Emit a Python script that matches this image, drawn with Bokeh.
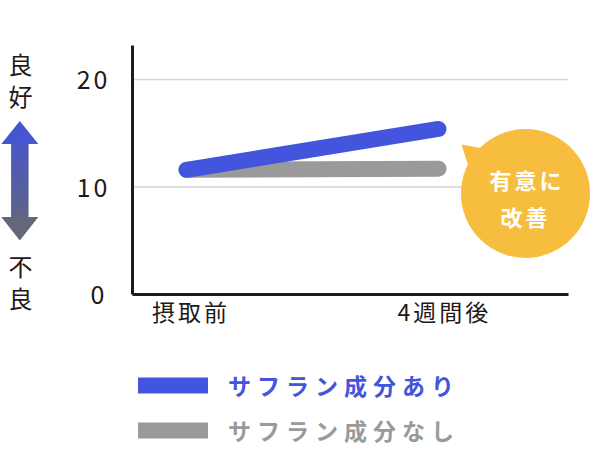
import numpy as np
from bokeh.plotting import figure
from bokeh.models import Range1d, FixedTicker, Label, Legend, LegendItem
from bokeh.layouts import row, column
from bokeh.embed import file_html
from bokeh.resources import INLINE

# ---- data ----
categories = ["摂取前", "4週間後"]
x_pos = [0, 1]
saffron_with = [11.6, 15.4]
saffron_without = [11.6, 11.7]
y_ticks = [0, 10, 20]
legend_labels = ["サフラン成分あり", "サフラン成分なし"]
better_label = "良\n好"
worse_label = "不\n良"
callout_lines = ["有意に", "改善"]

# ---- styles ----
BLUE = "#4355DC"
GRAY = "#9A9A9A"
DARK = "#231815"
ORANGE = "#F7BD3E"
FONT = "Noto Sans CJK JP"

TOTAL_W, TOTAL_H = 590, 464
LW = 42            # left strip (arrow + labels)
MH = 340           # main chart height
LH = TOTAL_H - MH  # legend strip height
MW = TOTAL_W - LW

# pixel geometry of the main frame (page coordinates)
FL, FR, FT, FB = 132, 590, 45, 294
X0_PX, PX_PER_X = 186, 252.0
PX_PER_Y = 10.75
AXIS_END_PX = 568


def dx(px):
    return (px - X0_PX) / PX_PER_X


def dy(py):
    return (FB - py) / PX_PER_Y


# ================= main chart =================
p = figure(width=MW, height=MH, output_backend="svg", toolbar_location=None,
           x_range=Range1d(dx(FL), dx(FR)), y_range=Range1d(0, dy(FT)),
           min_border_left=FL - LW, min_border_right=0,
           min_border_top=FT, min_border_bottom=MH - FB, frame_align=False)
p.outline_line_color = None
p.background_fill_color = "white"
p.border_fill_color = "white"
p.styles = {"letter-spacing": "3px"}

for ax in (p.xaxis, p.yaxis):
    ax.axis_line_color = DARK
    ax.axis_line_width = 3
    ax.major_tick_line_color = None
    ax.minor_tick_line_color = None
    ax.major_label_text_font = FONT
    ax.major_label_text_color = DARK

p.xaxis.ticker = FixedTicker(ticks=x_pos)
p.xaxis.major_label_overrides = {x: c for x, c in zip(x_pos, categories)}
p.xaxis.major_label_text_font_size = "23px"
p.xaxis.major_label_standoff = -7
p.xaxis.bounds = (dx(FL), dx(AXIS_END_PX))

p.yaxis.ticker = FixedTicker(ticks=y_ticks)
p.yaxis.major_label_text_font_size = "25px"
p.yaxis.major_label_standoff = 22

p.xgrid.grid_line_color = None
p.ygrid.grid_line_color = None
grid_vals = [v for v in y_ticks if v > 0]
p.segment(x0=[dx(FL)] * len(grid_vals), x1=[dx(AXIS_END_PX)] * len(grid_vals),
          y0=grid_vals, y1=grid_vals, line_color="#D5D5D5", line_width=1.5)

r_gray = p.line(x_pos, saffron_without, line_color=GRAY, line_width=16, line_cap="round")
r_blue = p.line(x_pos, saffron_with, line_color=BLUE, line_width=16, line_cap="round")

# callout bubble
p.scatter([dx(525)], [dy(193)], marker="circle", size=129,
          fill_color=ORANGE, line_color=None)
p.patch([dx(461), dx(483), dx(468)], [dy(144), dy(148), dy(166)],
        fill_color=ORANGE, line_color=None)
for txt, ty in zip(callout_lines, [178, 215]):
    p.add_layout(Label(x=dx(522), y=dy(ty), text=txt, text_align="center",
                       text_baseline="middle", text_color="white", text_font=FONT,
                       text_font_style="bold", text_font_size="22px"))

# ================= left strip =================
lf = figure(width=LW, height=MH, output_backend="svg", toolbar_location=None,
            x_range=Range1d(0, LW), y_range=Range1d(MH, 0),
            x_axis_type=None, y_axis_type=None, min_border=0, frame_align=False)
lf.outline_line_color = None
lf.xgrid.grid_line_color = None
lf.ygrid.grid_line_color = None

TOP_C = np.array([0x43, 0x55, 0xDC])
BOT_C = np.array([0x68, 0x68, 0x70])


def col_at(py):
    f = min(max((py - 120) / 120.0, 0), 1)
    c = (TOP_C * (1 - f) + BOT_C * f).astype(int)
    return "#%02x%02x%02x" % tuple(c)


acx, hw, sw = 19.3, 18.5, 8.7
lf.patch([acx, acx - hw, acx + hw], [120.5, 143.5, 143.5], fill_color=col_at(132), line_color=None)
lf.patch([acx - hw, acx + hw, acx], [216.5, 216.5, 240], fill_color=col_at(228), line_color=None)
tops = np.arange(143, 217, 2.0)
bots = np.minimum(tops + 2.6, 217)
lf.quad(left=acx - sw, right=acx + sw, top=tops, bottom=bots,
        fill_color=[col_at(t + 1) for t in tops], line_color=None)

lf.add_layout(Label(x=20, y=79, text=better_label, text_align="center", text_baseline="middle",
                    text_color=DARK, text_font=FONT, text_font_size="24px", text_line_height=0.9))
lf.add_layout(Label(x=20, y=281, text=worse_label, text_align="center", text_baseline="middle",
                    text_color=DARK, text_font=FONT, text_font_size="24px", text_line_height=0.9))

# ================= legend strip =================
gf = figure(width=TOTAL_W, height=LH, output_backend="svg", toolbar_location=None,
            x_range=Range1d(0, TOTAL_W), y_range=Range1d(0, LH),
            x_axis_type=None, y_axis_type=None, min_border=0, frame_align=False)
gf.outline_line_color = None
gf.xgrid.grid_line_color = None
gf.ygrid.grid_line_color = None
gf.styles = {"letter-spacing": "6px"}

series = [saffron_with, saffron_without]
colors = [BLUE, GRAY]
centers = [387, 432]
for lab, ys, col, cy in zip(legend_labels, series, colors, centers):
    rr = gf.line(x=x_pos, y=ys, line_width=16, line_cap="round", line_color=col, visible=False)
    leg = Legend(items=[LegendItem(label=lab, renderers=[rr])],
                 location=(138, TOTAL_H - (cy + 15)),
                 padding=0, margin=0, spacing=0,
                 border_line_color=None, background_fill_alpha=0,
                 glyph_width=70, glyph_height=30, label_height=30,
                 label_standoff=20, click_policy="none",
                 label_text_font=FONT, label_text_font_size="23px",
                 label_text_font_style="bold", label_text_color=col,
                 label_text_baseline="middle")
    gf.add_layout(leg)

layout = column(row(lf, p), gf)
open("out.html", "w").write(file_html(layout, INLINE))
